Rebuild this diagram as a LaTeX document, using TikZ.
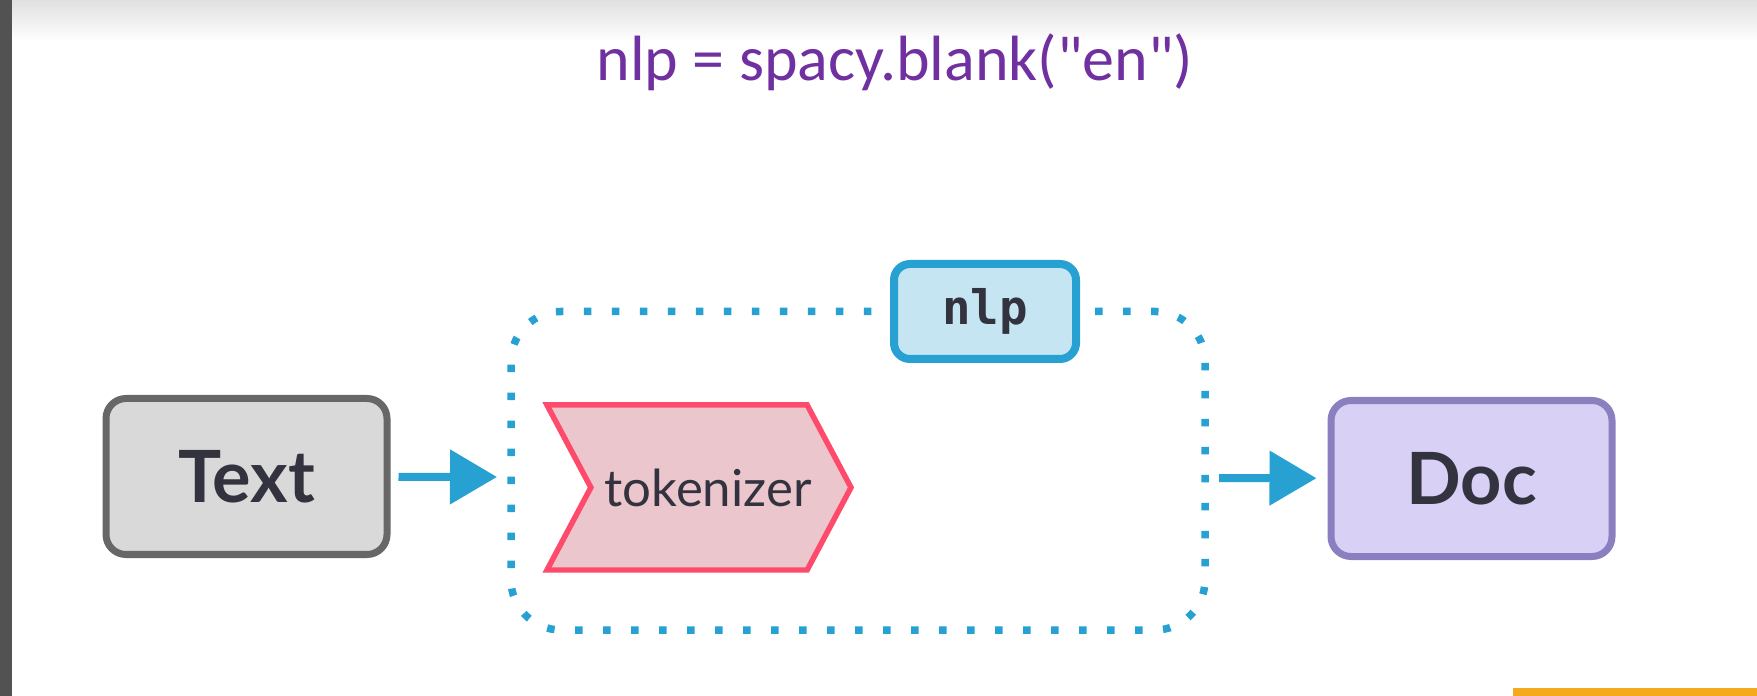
\documentclass[tikz,border=0pt]{standalone}
\usepackage{fontspec}
\setmainfont{Lato}
\setmonofont{DejaVu Sans Mono}
\newfontfamily\slidefont{Carlito}
\usepackage{tikz}
\usetikzlibrary{positioning,arrows.meta,shapes.symbols}
\definecolor{slidepurple}{RGB}{112,48,160}
\definecolor{ink}{RGB}{51,51,64}
\definecolor{txtfill}{RGB}{217,217,217}
\definecolor{txtline}{RGB}{103,103,103}
\definecolor{pipeblue}{RGB}{39,160,210}
\definecolor{nlpfill}{RGB}{198,229,243}
\definecolor{tokfill}{RGB}{236,198,205}
\definecolor{tokline}{RGB}{255,75,107}
\definecolor{docfill}{RGB}{216,208,245}
\definecolor{docline}{RGB}{139,128,191}
\definecolor{barorange}{RGB}{245,170,30}

\begin{document}
\begin{tikzpicture}[x=1cm,y=-1cm,
    objbox/.style={rounded corners=0.2cm,line width=0.07cm,minimum width=2.81cm,
                   minimum height=1.56cm,text=ink,font=\bfseries\fontsize{20.5}{24}\selectfont},
    flow/.style={pipeblue,line width=0.08cm,-{Triangle[length=0.47cm,width=0.53cm]}},
    frame/.style={pipeblue,line width=0.075cm,dash pattern=on 0.075cm off 0.205cm,rounded corners=0.5cm}]
      \useasboundingbox (0,0) rectangle (17.57,6.96);
      \fill[white] (0,0) rectangle (17.57,6.96);
      \shade[top color=black!12,bottom color=white] (0,0) rectangle (17.57,0.42);
      \fill[black!68] (0,0) rectangle (0.12,6.96);
      \fill[barorange] (15.13,6.88) rectangle (17.57,6.96);
      \node[slidepurple,font=\slidefont\fontsize{18.2}{21}\selectfont] (title) at (8.95,0.62) {nlp = spacy.blank("en")};
      \node[objbox,fill=txtfill,draw=txtline] (txt) at (2.465,4.765) {Text};
      \node[objbox,fill=docfill,draw=docline] (doc) at (14.715,4.785) {Doc};
      \node[signal,signal from=west,signal to=east,signal pointer angle=124,
            fill=tokfill,draw=tokline,line width=0.055cm,minimum width=3.04cm,minimum height=1.65cm,
            text=ink,font=\fontsize{14.5}{17}\selectfont,inner xsep=-0.045cm] (tok) at (6.99,4.875) {\hspace*{0.18cm}tokenizer};
      \node[rounded corners=0.16cm,line width=0.08cm,fill=nlpfill,draw=pipeblue,minimum width=1.82cm,
            minimum height=0.95cm,text=ink,font=\ttfamily\bfseries\fontsize{13.5}{16}\selectfont] (nlp) at (9.85,3.115) {nlp};
      \draw[frame,shorten <=0.15cm,shorten >=0.15cm] (nlp.east) -- (12.05,3.115) -- (12.05,6.30)
            -- (5.11,6.30) -- (5.11,3.115) -- (nlp.west);
      \coordinate (inA) at (4.97,4.77);
      \coordinate (outA) at (12.19,4.78);
      \draw[flow,shorten <=0.08cm] (txt) -- (inA);
      \draw[flow,shorten >=0.11cm] (outA) -- (doc);
    \end{tikzpicture}
\end{document}
